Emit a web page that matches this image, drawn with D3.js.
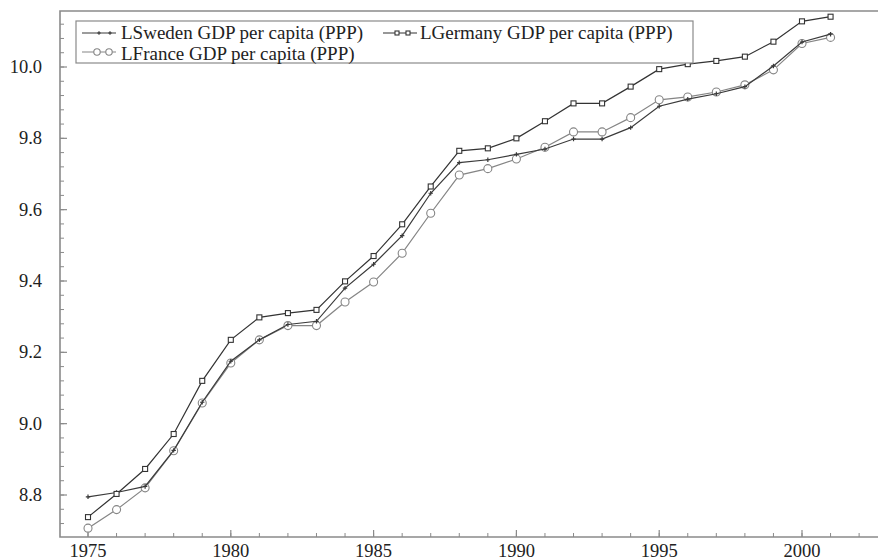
<!DOCTYPE html>
<html>
<head>
<meta charset="utf-8">
<script src="https://cdn.jsdelivr.net/npm/d3@7"></script>
<style>
  body { margin: 0; background: #fff; }
  svg { display: block; }
  svg text { font-family: "Liberation Serif", "DejaVu Serif", serif; }
</style>
</head>
<body>
<div id="chart"></div>
<script>
// years on the x axis
let years = d3.range(1975, 2002);

// log GDP per capita (PPP)
let sweden = [8.795, 8.807, 8.824, 8.925, 9.060, 9.175, 9.235, 9.278, 9.287, 9.380,
              9.447, 9.527, 9.646, 9.732, 9.740, 9.755, 9.770, 9.798, 9.798, 9.830,
              9.890, 9.910, 9.925, 9.945, 10.003, 10.070, 10.092];
let germany = [8.738, 8.803, 8.873, 8.971, 9.120, 9.235, 9.298, 9.310, 9.319, 9.399,
               9.470, 9.559, 9.665, 9.765, 9.772, 9.800, 9.848, 9.898, 9.898, 9.945,
               9.994, 10.008, 10.017, 10.029, 10.071, 10.128, 10.141];
let france = [8.707, 8.759, 8.820, 8.924, 9.058, 9.170, 9.235, 9.275, 9.275, 9.341,
              9.397, 9.478, 9.590, 9.697, 9.715, 9.742, 9.775, 9.818, 9.818, 9.858,
              9.908, 9.916, 9.930, 9.950, 9.992, 10.066, 10.083];

let yTicks = [8.8, 9.0, 9.2, 9.4, 9.6, 9.8, 10.0];
let xTicks = [1975, 1980, 1985, 1990, 1995, 2000];

let svg_width = 878;
let svg_height = 560;

// plot frame (left, top, bottom lines; right side runs off the window)
let frame_left = 60, frame_top = 11, frame_bottom = 537, frame_right = 878;

let x = d3.scaleLinear().domain([1975, 2000]).range([88, 802]);
let y = d3.scaleLinear().domain([8.8, 10.0]).range([495, 67]);

let axisColor = '#8a8a8a';
let fontFamily = '"Liberation Serif", "Times New Roman", serif';

let svg = d3.select('#chart')
    .append('svg')
    .attr('width', svg_width)
    .attr('height', svg_height);

// frame
svg.append('path')
    .attr('d', 'M' + frame_right + ',' + frame_top + 'H' + frame_left + 'V' + frame_bottom + 'H' + frame_right)
    .attr('fill', 'none')
    .attr('stroke', axisColor)
    .attr('stroke-width', 1.6);

// y ticks: major every 0.2, minor every 0.04
let yMinor = d3.range(8.68, 10.17, 0.04).filter(function(v){
    let py = y(v); return py > frame_top + 2 && py < frame_bottom - 2;
});
svg.append('g').selectAll('line')
    .data(yMinor)
    .enter()
    .append('line')
    .attr('x1', frame_left).attr('x2', frame_left + 4)
    .attr('y1', function(d){return y(d);})
    .attr('y2', function(d){return y(d);})
    .attr('stroke', axisColor);

svg.append('g').selectAll('line')
    .data(yTicks)
    .enter()
    .append('line')
    .attr('x1', frame_left).attr('x2', frame_left + 7)
    .attr('y1', function(d){return y(d);})
    .attr('y2', function(d){return y(d);})
    .attr('stroke', axisColor)
    .attr('stroke-width', 1.2);

svg.append('g').selectAll('text')
    .data(yTicks)
    .enter()
    .append('text')
    .attr('x', 42)
    .attr('y', function(d){return y(d) + 6;})
    .attr('text-anchor', 'end')
    .attr('font-family', fontFamily)
    .attr('font-size', 18.5)
    .attr('fill', '#222')
    .text(function(d){return d.toFixed(1);});

// x ticks: minor every year, major every 5
let xMinor = d3.range(1975, 2003);
svg.append('g').selectAll('line')
    .data(xMinor)
    .enter()
    .append('line')
    .attr('x1', function(d){return x(d);})
    .attr('x2', function(d){return x(d);})
    .attr('y1', frame_bottom).attr('y2', frame_bottom - 4)
    .attr('stroke', axisColor);

svg.append('g').selectAll('line')
    .data(xTicks)
    .enter()
    .append('line')
    .attr('x1', function(d){return x(d);})
    .attr('x2', function(d){return x(d);})
    .attr('y1', frame_bottom).attr('y2', frame_bottom - 7)
    .attr('stroke', axisColor)
    .attr('stroke-width', 1.2);

svg.append('g').selectAll('text')
    .data(xTicks)
    .enter()
    .append('text')
    .attr('x', function(d){return x(d);})
    .attr('y', 557)
    .attr('text-anchor', 'middle')
    .attr('font-family', fontFamily)
    .attr('font-size', 18.5)
    .attr('fill', '#222')
    .text(function(d){return d;});

// series
let series = [
    {name: 'LSweden GDP per capita (PPP)', values: sweden, color: '#3a3a3a', marker: 'plus'},
    {name: 'LGermany GDP per capita (PPP)', values: germany, color: '#333333', marker: 'square'},
    {name: 'LFrance GDP per capita (PPP)', values: france, color: '#858585', marker: 'circle'}
];

let line = d3.line()
    .x(function(d, i){return x(years[i]);})
    .y(function(d){return y(d);});

function drawMarker(g, kind, color, cx, cy, sz) {
    if (kind === 'plus') {
        let h = 2.2 * sz;
        g.append('path')
            .attr('d', 'M' + (cx - h) + ',' + cy + 'h' + (2 * h) + 'M' + cx + ',' + (cy - h) + 'v' + (2 * h))
            .attr('stroke', color).attr('stroke-width', 1.2).attr('fill', 'none');
    } else if (kind === 'square') {
        let h = 2.5 * sz;
        g.append('rect')
            .attr('x', cx - h).attr('y', cy - h)
            .attr('width', 2 * h).attr('height', 2 * h)
            .attr('fill', '#fff').attr('stroke', color).attr('stroke-width', 1.1);
    } else {
        g.append('circle')
            .attr('cx', cx).attr('cy', cy).attr('r', 4 * sz)
            .attr('fill', '#fff').attr('stroke', color).attr('stroke-width', 1.1);
    }
}

// draw France first, then Sweden, Germany on top
[2, 0, 1].forEach(function(k){
    let s = series[k];
    let g = svg.append('g');
    g.append('path')
        .datum(s.values)
        .attr('d', line)
        .attr('fill', 'none')
        .attr('stroke', s.color)
        .attr('stroke-width', 1.2);
    s.values.forEach(function(v, i){
        drawMarker(g, s.marker, s.color, x(years[i]), y(v), 1);
    });
});

// legend
let legend = svg.append('g');
legend.append('rect')
    .attr('x', 76).attr('y', 21)
    .attr('width', 617).attr('height', 42)
    .attr('fill', '#fff')
    .attr('stroke', axisColor)
    .attr('stroke-width', 1.2);

let legendPos = [
    {lx: 82, ly: 33, m: [99, 110], tx: 121, ty: 39},
    {lx: 383, ly: 33, m: [397, 408], tx: 420, ty: 39},
    {lx: 82, ly: 52, m: [97, 109], tx: 121, ty: 60}
];

series.forEach(function(s, k){
    let p = legendPos[k];
    legend.append('line')
        .attr('x1', p.lx).attr('x2', p.lx + 34)
        .attr('y1', p.ly).attr('y2', p.ly)
        .attr('stroke', s.color).attr('stroke-width', 1.1);
    p.m.forEach(function(mx){ drawMarker(legend, s.marker, s.color, mx, p.ly, 0.8); });
    legend.append('text')
        .attr('x', p.tx).attr('y', p.ty)
        .attr('font-family', fontFamily)
        .attr('font-size', 19)
        .attr('fill', '#222')
        .text(s.name);
});
</script>
</body>
</html>
